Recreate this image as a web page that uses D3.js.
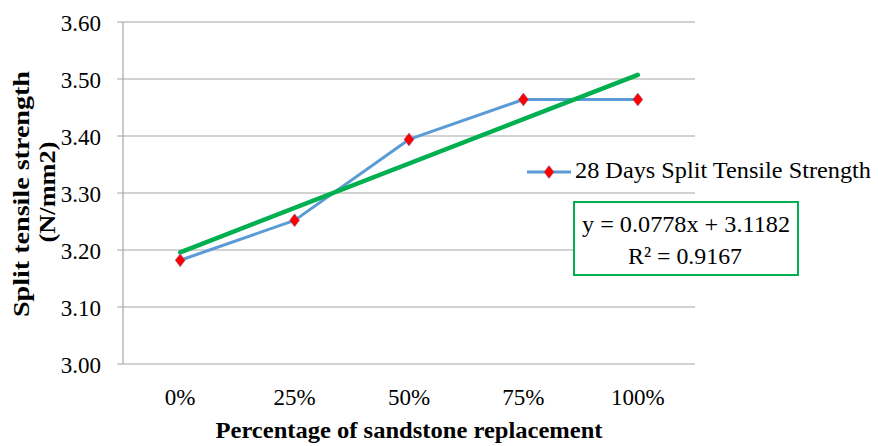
<!DOCTYPE html>
<html><head><meta charset="utf-8">
<script src="https://cdn.jsdelivr.net/npm/d3@7"></script>
<style>body{margin:0;background:#fff}svg{display:block}text{font-family:"Liberation Serif","Times New Roman",serif;fill:#000}</style>
</head><body>
<svg id="c" width="878" height="446"></svg>
<script>
const categories = ["0%", "25%", "50%", "75%", "100%"];
const strengthValues = [3.182, 3.252, 3.394, 3.464, 3.464];
const yTicks = [3.00, 3.10, 3.20, 3.30, 3.40, 3.50, 3.60];
const seriesName = "28 Days Split Tensile Strength";
const trendSlope = 0.0778, trendIntercept = 3.1182;
const eqLines = ["y = 0.0778x + 3.1182", "R² = 0.9167"];

const svg = d3.select("#c");
const L = 123, R = 695, T = 22, B = 364;
const x = d3.scaleBand().domain(categories).range([L, R]);
const y = d3.scaleLinear().domain([3.0, 3.6]).range([B, T]);
const cx = c => x(c) + x.bandwidth() / 2;

// gridlines
svg.append("g").selectAll("line").data(yTicks).join("line")
  .attr("x1", L - 6).attr("x2", R).attr("y1", d => y(d)).attr("y2", d => y(d))
  .attr("stroke", "#a6a6a6").attr("stroke-width", 1.2);
// y axis line
svg.append("line").attr("x1", L).attr("x2", L).attr("y1", T).attr("y2", B)
  .attr("stroke", "#a6a6a6").attr("stroke-width", 1.2);
// y tick labels
svg.append("g").selectAll("text").data(yTicks).join("text")
  .attr("x", 101).attr("y", d => y(d) + 8.5).attr("text-anchor", "end")
  .attr("font-size", 23).text(d => d.toFixed(2));
// x tick labels
svg.append("g").selectAll("text").data(categories).join("text")
  .attr("x", d => cx(d)).attr("y", 405).attr("text-anchor", "middle")
  .attr("font-size", 23).text(d => d);

// series line
const pts = categories.map((c, i) => [cx(c), y(strengthValues[i])]);
svg.append("path").attr("d", d3.line()(pts)).attr("fill", "none")
  .attr("stroke", "#5b9bd5").attr("stroke-width", 3).attr("stroke-linejoin", "round");

// trendline from equation
const tx = [1, categories.length];
const tpts = tx.map(v => [cx(categories[v - 1]), y(trendSlope * v + trendIntercept)]);
svg.append("path").attr("d", d3.line()(tpts)).attr("fill", "none")
  .attr("stroke", "#00b050").attr("stroke-width", 4.5).attr("stroke-linecap", "round");

// markers
function marker(g, px, py) {
  g.append("path").attr("d", "M0,-6.5L5,0L0,6.5L-5,0Z")
    .attr("transform", `translate(${px},${py})`)
    .attr("fill", "#ff0000").attr("stroke", "#7f6fb0").attr("stroke-width", 0.5);
}
const mg = svg.append("g");
pts.forEach(p => marker(mg, p[0], p[1]));

// legend
svg.append("line").attr("x1", 527).attr("x2", 571).attr("y1", 172).attr("y2", 172)
  .attr("stroke", "#5b9bd5").attr("stroke-width", 3);
marker(svg, 549, 172);
svg.append("text").attr("x", 575).attr("y", 178).attr("font-size", 24)
  .attr("textLength", 296).attr("lengthAdjust", "spacingAndGlyphs").text(seriesName);

// equation box
svg.append("rect").attr("x", 574).attr("y", 202).attr("width", 224).attr("height", 73)
  .attr("fill", "#fff").attr("stroke", "#00b050").attr("stroke-width", 2);
const eqLens = [208, 114];
svg.append("g").selectAll("text").data(eqLines).join("text")
  .attr("x", (d, i) => i === 0 ? 582 : 628).attr("y", (d, i) => i === 0 ? 232 : 264)
  .attr("font-size", 24)
  .attr("textLength", (d, i) => eqLens[i]).attr("lengthAdjust", "spacingAndGlyphs")
  .text(d => d);

// axis titles
svg.append("text").attr("x", 409).attr("y", 438).attr("text-anchor", "middle")
  .attr("font-size", 24).attr("font-weight", "bold")
  .attr("textLength", 387).attr("lengthAdjust", "spacingAndGlyphs")
  .text("Percentage of sandstone replacement");
svg.append("text").attr("transform", "translate(29,194) rotate(-90)")
  .attr("text-anchor", "middle").attr("font-size", 23).attr("font-weight", "bold")
  .attr("textLength", 246).attr("lengthAdjust", "spacingAndGlyphs")
  .text("Split  tensile strength");
svg.append("text").attr("transform", "translate(55,192) rotate(-90)")
  .attr("text-anchor", "middle").attr("font-size", 23).attr("font-weight", "bold")
  .attr("textLength", 101).attr("lengthAdjust", "spacingAndGlyphs")
  .text("(N/mm2)");
</script>
</body></html>
